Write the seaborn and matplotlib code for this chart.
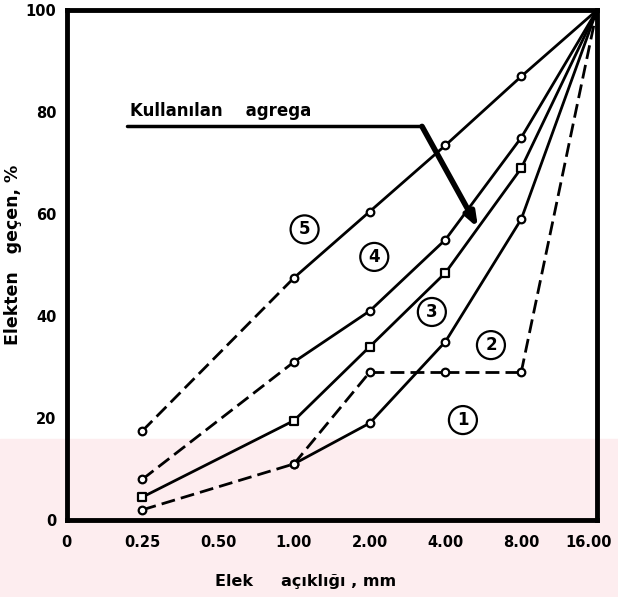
import numpy as np
import pandas as pd
import seaborn as sns
import matplotlib.pyplot as plt
import matplotlib.transforms as mtransforms
from matplotlib.patches import Rectangle

# elek açıklıkları (eşit aralıklı eksen)
tick_labels = ["0", "0.25", "0.50", "1.00", "2.00", "4.00", "8.00", "16.00"]
elekler = ["0.25", "1.00", "2.00", "4.00", "8.00", "16.00"]

egri1 = [2, 11, 19, 35, 59, 100]
egri2 = [2, 11, 29, 29, 29, 100]
egri3 = [4.5, 19.5, 34, 48.5, 69, 100]
egri4 = [8, 31, 41, 55, 75, 100]
egri5 = [17.5, 47.5, 60.5, 73.5, 87, 100]

sns.set_style("white")
plt.rcParams['font.family'] = ['DejaVu Sans']
plt.rcParams['text.color'] = 'black'
plt.rcParams['xtick.color'] = 'black'
plt.rcParams['ytick.color'] = 'black'
plt.rcParams['axes.labelcolor'] = 'black'

fig = plt.figure(figsize=(6.18, 5.97), dpi=100)
# filigran bandı
fig.add_artist(Rectangle((0, 0), 1, 0.265, transform=fig.transFigure,
                         color="#fdedef", zorder=-10))
ax = fig.add_axes([0.108, 0.129, 0.858, 0.854])
ax.patch.set_alpha(0)

pos = {lab: i for i, lab in enumerate(tick_labels)}
x = [pos[e] for e in elekler]

def ciz(y, stiller, bas=0, marker="o", son=5):
    for i in range(bas, len(y) - 1):
        d = pd.DataFrame({"x": x[i:i + 2], "y": y[i:i + 2]})
        ls = (0, (5, 2.2)) if stiller[i] == "d" else "-"
        sns.lineplot(data=d, x="x", y="y", color="black", lw=2.0,
                     linestyle=ls, ax=ax, zorder=3)
    m = pd.DataFrame({"x": x[bas:son], "y": y[bas:son]})
    sns.scatterplot(data=m, x="x", y="y", marker=marker, s=30, color="white",
                    edgecolor="black", linewidth=1.6, ax=ax, zorder=4)

ciz(egri1, ["d", "s", "s", "s", "s"])
ciz(egri2, ["d", "d", "d", "d", "d"], bas=1)
ciz(egri3, ["s", "s", "s", "s", "s"], marker="s")
ciz(egri4, ["d", "s", "s", "s", "s"])
ciz(egri5, ["d", "s", "s", "s", "s"])

# eğri numaraları
for n, (xx, yy) in {"5": (3.14, 57), "4": (4.06, 51.6), "3": (4.82, 40.8),
                     "2": (5.6, 34.3), "1": (5.23, 19.6)}.items():
    ax.text(xx, yy, n, ha="center", va="center", fontsize=12, fontweight="bold",
            bbox=dict(boxstyle="circle,pad=0.3", fc="white", ec="black", lw=1.6),
            zorder=5)

# "Kullanılan agrega" oku
ax.text(0.83, 79.3, "Kullanılan    agrega", fontsize=12, fontweight="bold")
ax.plot([0.8, 4.69], [77.2, 77.2], color="black", lw=2.5, zorder=3)
ax.annotate("", xy=(5.43, 57.3), xytext=(4.69, 77.2),
            arrowprops=dict(arrowstyle="-|>,head_length=0.8,head_width=0.3",
                            color="black", lw=4, shrinkA=0, shrinkB=0), zorder=6)

ax.set_xlim(0, 7)
ax.set_ylim(0, 100)
ax.set_xticks(range(len(tick_labels)))
ax.set_xticklabels(tick_labels)
ax.set_yticks([0, 20, 40, 60, 80, 100])
ax.tick_params(axis="both", length=4, width=1.5, color="black", direction="out",
               labelsize=10.5)
ax.tick_params(axis="x", pad=7)
for t in ax.get_xticklabels() + ax.get_yticklabels():
    t.set_fontweight("bold")
son_etiket = ax.get_xticklabels()[-1]
son_etiket.set_transform(son_etiket.get_transform() +
                         mtransforms.ScaledTranslation(-0.08, 0, fig.dpi_scale_trans))
for s in ax.spines.values():
    s.set_linewidth(3.5)
    s.set_color("black")
ax.set_xlabel("Elek     açıklığı , mm", fontsize=11.5, fontweight="bold")
ax.xaxis.set_label_coords(0.45, -0.105)
ax.set_ylabel("Elekten   geçen, %", fontsize=12.5, fontweight="bold")
ax.yaxis.set_label_coords(-0.085, 0.52)

fig.savefig("out.png", dpi=100)
